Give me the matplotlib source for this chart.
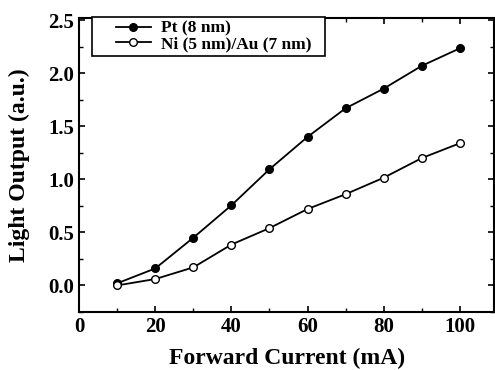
import numpy as np
import matplotlib.pyplot as plt
from matplotlib.ticker import MultipleLocator
from matplotlib.patches import Rectangle

plt.rcParams['font.family'] = ['Liberation Serif', 'DejaVu Serif']
plt.rcParams['font.weight'] = 'bold'

current = [10, 20, 30, 40, 50, 60, 70, 80, 90, 100]
pt_output = [0.02, 0.16, 0.45, 0.755, 1.095, 1.40, 1.67, 1.855, 2.07, 2.235]
niau_output = [0.0, 0.06, 0.17, 0.385, 0.54, 0.72, 0.86, 1.015, 1.20, 1.34]

fig = plt.figure(figsize=(4.95, 3.7), dpi=100)
ax = fig.add_axes([0.16, 0.157, 0.838, 0.794])

ax.plot(current, pt_output, '-o', color='black', mfc='black', ms=5.5, lw=1.3,
        label='Pt (8 nm)')
ax.plot(current, niau_output, '-o', color='black', mfc='white', ms=5.5, lw=1.3,
        label='Ni (5 nm)/Au (7 nm)')

ax.set_xlim(0, 109)
ax.set_ylim(-0.25, 2.52)
ax.xaxis.set_major_locator(MultipleLocator(20))
ax.xaxis.set_minor_locator(MultipleLocator(10))
ax.yaxis.set_major_locator(MultipleLocator(0.5))
ax.yaxis.set_minor_locator(MultipleLocator(0.25))
ax.yaxis.set_major_formatter(plt.FormatStrFormatter('%.1f'))
ax.tick_params(which='both', direction='in', top=True, right=True, labelsize=15)
ax.tick_params(which='major', length=4, width=1.2)
ax.tick_params(which='minor', length=3, width=1)
for s in ax.spines.values():
    s.set_linewidth(1.5)

ax.set_xlabel('Forward Current (mA)', fontsize=17, fontweight='bold', labelpad=8)
ax.set_ylabel('Light Output (a.u.)', fontsize=17, fontweight='bold', labelpad=13)

# legend without its own frame, boxed by a wider rectangle like the original
leg = ax.legend(loc='upper left', bbox_to_anchor=(0.082, 1.0), fontsize=12.5,
                frameon=False, handlelength=2.0, borderpad=0.15,
                labelspacing=-0.05, handletextpad=0.6, borderaxespad=0)
box = Rectangle((0.031, 0.872), 0.562, 0.131, transform=ax.transAxes,
                fill=True, facecolor='white', edgecolor='black', lw=1.2,
                clip_on=False, zorder=4)
ax.add_patch(box)
leg.set_zorder(5)

fig.savefig('out.png', dpi=100)
